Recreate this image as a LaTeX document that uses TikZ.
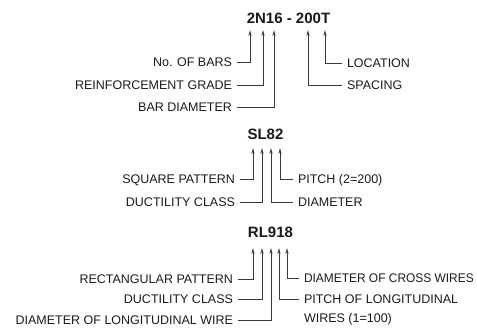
\documentclass[tikz,border=0pt]{standalone}
\usepackage{fontspec}
\setmainfont{Liberation Sans}
\usetikzlibrary{arrows.meta}
\definecolor{ink}{HTML}{1A1A1A}
\definecolor{wire}{HTML}{3A3A3A}
\tikzset{
  ttl/.style={font=\fontsize{15}{17}\selectfont\bfseries, text=ink, inner sep=0pt, text height=10.7pt, text depth=0pt},
  lbl/.style={font=\fontsize{12.5}{15}\selectfont, text=ink, inner sep=0pt, outer xsep=5pt, outer ysep=0pt, text height=9pt, text depth=0pt},
  conn/.style={draw=wire, line width=0.9pt, -{Stealth[length=6pt,width=3.2pt]}},
}
\begin{document}
\begin{tikzpicture}[x=1pt,y=-1pt]
\useasboundingbox (0,0) rectangle (477,335);
% ---- 2N16 - 200T
\node[ttl] (t1) at (288.5,18) {2N16 - 200T};
\coordinate (a11) at (250,30);
\coordinate (a12) at (263,30);
\coordinate (a13) at (274,30);
\coordinate (a14) at (308,30);
\coordinate (a15) at (325,30);
\node[lbl, anchor=east] (nob) at (237,62) {No. OF BARS};
\node[lbl, anchor=east] (rg) at (237,85) {REINFORCEMENT GRADE};
\node[lbl, anchor=east] (bd) at (237,107) {BAR DIAMETER};
\node[lbl, anchor=west] (loc) at (342,63) {LOCATION};
\node[lbl, anchor=west] (spc) at (342,85) {SPACING};
\draw[conn] (nob.east) -| (a11);
\draw[conn] (rg.east) -| (a12);
\draw[conn] (bd.east) -| (a13);
\draw[conn] (spc.west) -| (a14);
\draw[conn] (loc.west) -| (a15);
% ---- SL82
\node[ttl] (t2) at (265.5,134) {SL82};
\coordinate (a21) at (253,148);
\coordinate (a22) at (262,148);
\coordinate (a23) at (271,148);
\coordinate (a24) at (280,148);
\node[lbl, anchor=east] (sq) at (240,179) {SQUARE PATTERN};
\node[lbl, anchor=east] (dc) at (240,202) {DUCTILITY CLASS};
\node[lbl, anchor=west] (pt) at (293,179) {PITCH (2=200)};
\node[lbl, anchor=west] (dm) at (293,202) {DIAMETER};
\draw[conn] (sq.east) -| (a21);
\draw[conn] (dc.east) -| (a22);
\draw[conn] (dm.west) -| (a23);
\draw[conn] (pt.west) -| (a24);
% ---- RL918
\node[ttl] (t3) at (270.5,232) {RL918};
\coordinate (a31) at (253,248);
\coordinate (a32) at (262,248);
\coordinate (a33) at (271,248);
\coordinate (a34) at (279,248);
\coordinate (a35) at (287,248);
\node[lbl, anchor=east] (rp) at (238,279) {RECTANGULAR PATTERN};
\node[lbl, anchor=east] (dc2) at (238,299) {DUCTILITY CLASS};
\node[lbl, anchor=east] (dlw) at (238,320) {DIAMETER OF LONGITUDINAL WIRE};
\node[lbl, anchor=west] (dcw) at (299,278) {\scalebox{0.955}[1]{DIAMETER OF CROSS WIRES}};
\node[lbl, anchor=west] (plw) at (299,299) {PITCH OF LONGITUDINAL};
\node[lbl, anchor=west] (plw2) at (299,318) {WIRES (1=100)};
\draw[conn] (rp.east) -| (a31);
\draw[conn] (dc2.east) -| (a32);
\draw[conn] (dlw.east) -| (a33);
\draw[conn] (plw.west) -| (a34);
\draw[conn] (dcw.west) -| (a35);
\end{tikzpicture}
\end{document}
